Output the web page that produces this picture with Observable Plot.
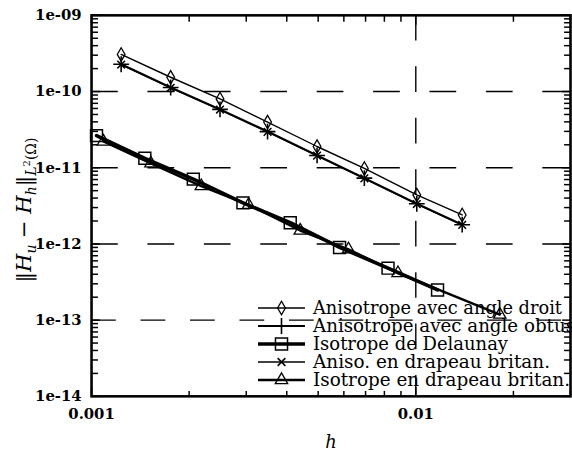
<!DOCTYPE html>
<html>
<head>
<meta charset="utf-8">
<script src="https://cdn.jsdelivr.net/npm/d3@7"></script>
<script src="https://cdn.jsdelivr.net/npm/@observablehq/plot@0.6"></script>
<style>
  html, body { margin: 0; padding: 0; background: #fff; overflow: hidden; }
  #wrap { position: relative; width: 572px; height: 457px; overflow: hidden; }
  #wrap svg.plot { position: absolute; left: 0; top: 0; }
  #ylabel {
    position: absolute; left: 26px; top: 210px; white-space: nowrap; line-height: 1;
    transform: translate(-50%, -50%) rotate(-90deg);
    font-family: "DejaVu Serif", serif; font-size: 21px; color: #000;
  }
  #ylabel sub { font-size: 14px; }
  #ylabel sup { font-size: 10px; }
  #legend { position: absolute; left: 0; top: 0; pointer-events: none; }
</style>
</head>
<body>
<div id="wrap"></div>
<script>
// Mesh size h and L2 error for each mesh family
const hAngleDroit   = [0.001234, 0.001754, 0.00249, 0.00349, 0.00496, 0.00694, 0.01007, 0.0139];
const errAngleDroit = [3.07e-10, 1.54e-10, 8.0e-11, 3.98e-11, 1.9e-11, 9.8e-12, 4.4e-12, 2.4e-12];

const hAngleObtus   = [0.001234, 0.001754, 0.00249, 0.00349, 0.00496, 0.00694, 0.01007, 0.0139];
const errAngleObtus = [2.28e-10, 1.13e-10, 5.83e-11, 2.98e-11, 1.45e-11, 7.3e-12, 3.36e-12, 1.79e-12];

const hDelaunay   = [0.001036, 0.00146, 0.00206, 0.00293, 0.0041, 0.00582, 0.00821, 0.01167];
const errDelaunay = [2.64e-11, 1.33e-11, 7.09e-12, 3.46e-12, 1.90e-12, 9.0e-13, 4.81e-13, 2.49e-13];

const hAnisoBritan   = [0.001234, 0.001754, 0.00249, 0.00349, 0.00496, 0.00694, 0.01007, 0.0139];
const errAnisoBritan = [2.26e-10, 1.12e-10, 5.8e-11, 2.96e-11, 1.44e-11, 7.25e-12, 3.34e-12, 1.78e-12];

const hIsoBritan   = [0.001088, 0.001524, 0.00218, 0.00305, 0.0044, 0.0062, 0.00881, 0.01816];
const errIsoBritan = [2.21e-11, 1.14e-11, 5.75e-12, 3.26e-12, 1.50e-12, 8.5e-13, 4.14e-13, 1.18e-13];

// Legend labels
const seriesNames = [
  "Anisotrope avec angle droit",
  "Anisotrope avec angle obtus",
  "Isotrope de Delaunay",
  "Aniso. en drapeau britan.",
  "Isotrope en drapeau britan."
];

// Axis ticks
const xTicks = [0.001, 0.01];
const xTickLabels = ["0.001", "0.01"];
const yTicks = [1e-14, 1e-13, 1e-12, 1e-11, 1e-10, 1e-9];
const yTickLabels = ["1e-14", "1e-13", "1e-12", "1e-11", "1e-10", "1e-09"];
const yGrid = [1e-10, 1e-11, 1e-12];
const yGridLow = [1e-13];
const xGrid = [0.01];
const xTitle = "h";

// Minor ticks: 2..9 within each decade
const xMinor = [];
for (const d of [0.001, 0.01]) for (let k = 2; k <= 9; k++) if (k * d <= 0.03 + 1e-12) xMinor.push(k * d);
const yMinor = [];
for (const d of [1e-14, 1e-13, 1e-12, 1e-11, 1e-10]) for (let k = 2; k <= 9; k++) yMinor.push(k * d);

const table = (hs, es) => hs.map((h, i) => ({h, e: es[i]}));
const xLabelRows = xTicks.map((v, i) => ({v, label: xTickLabels[i]}));
const yLabelRows = yTicks.map((v, i) => ({v, label: yTickLabels[i]}));

const series = [
  {name: seriesNames[0], data: table(hAngleDroit, errAngleDroit),   symbol: "diamond",  r: 4.1, lw: 1.4, mw: 1.3, keyW: 249},
  {name: seriesNames[1], data: table(hAngleObtus, errAngleObtus),   symbol: "plus",     r: 5.2, lw: 2.2, mw: 1.6, keyW: 262},
  {name: seriesNames[2], data: table(hDelaunay, errDelaunay),       symbol: "square",   r: 6.8, lw: 3.6, mw: 1.5, keyW: 195},
  {name: seriesNames[3], data: table(hAnisoBritan, errAnisoBritan), symbol: "times",    r: 3.6, lw: 1.3, mw: 1.5, keyW: 237},
  {name: seriesNames[4], data: table(hIsoBritan, errIsoBritan),     symbol: "triangle", r: 4.6, lw: 2.4, mw: 1.3, keyW: 257}
];

const W = 578, H = 457;
const mL = 92, mR = 2, mT = 15, mB = 57;
const blank = () => "";

const lineMarks = series.map(s => Plot.line(s.data, {x: "h", y: "e", stroke: "#000", strokeWidth: s.lw}));
const dotMarks = series.map(s => Plot.dot(s.data, {x: "h", y: "e", symbol: () => s.symbol, r: s.r, stroke: "#000", fill: "none", strokeWidth: s.mw}));

const chart = Plot.plot({
  width: W, height: H,
  marginLeft: mL, marginRight: mR, marginTop: mT, marginBottom: mB,
  style: {fontFamily: "'DejaVu Serif', serif", fontSize: "15px", fontWeight: "bold", color: "#000", background: "#fff"},
  x: {type: "log", domain: [0.001, 0.03]},
  y: {type: "log", domain: [1e-14, 1e-9]},
  symbol: {type: "identity"},
  marks: [
    Plot.ruleY(yGrid, {stroke: "#000", strokeWidth: 1.4, strokeDasharray: "27,30"}),
    Plot.ruleY(yGridLow, {stroke: "#000", strokeWidth: 1.4, strokeDasharray: "25,25"}),
    Plot.ruleX(xGrid, {stroke: "#000", strokeWidth: 1.4, strokeDasharray: "26,26"}),
    ...lineMarks,
    ...dotMarks,
    Plot.frame({stroke: "#000", strokeWidth: 2.6}),
    // inward ticks on all four sides
    Plot.axisX(xMinor, {anchor: "bottom", tickSize: -5, tickFormat: blank, strokeWidth: 1.5, label: null}),
    Plot.axisX(xMinor, {anchor: "top", tickSize: -6, tickFormat: blank, strokeWidth: 1.5, label: null}),
    Plot.axisY(yMinor, {anchor: "left", tickSize: -7, tickFormat: blank, strokeWidth: 1.5, label: null}),
    Plot.axisY(yMinor, {anchor: "right", tickSize: -7, tickFormat: blank, strokeWidth: 1.5, label: null}),
    Plot.axisX(xTicks, {anchor: "bottom", tickSize: -9, tickFormat: blank, strokeWidth: 1.5, label: null}),
    Plot.axisY(yTicks, {anchor: "left", tickSize: -9, tickFormat: blank, strokeWidth: 1.5, label: null}),
    Plot.axisX(xTicks, {anchor: "top", tickSize: -9, tickFormat: blank, strokeWidth: 1.5, label: null}),
    Plot.axisY(yTicks, {anchor: "right", tickSize: -9, tickFormat: blank, strokeWidth: 1.5, label: null}),
    // tick labels and x title
    Plot.text(xLabelRows, {x: "v", text: "label", frameAnchor: "bottom", dy: 18, lineAnchor: "middle",
      fill: "#000", fontWeight: "bold", fontSize: 15}),
    Plot.text(yLabelRows, {y: "v", text: "label", frameAnchor: "left", dx: -10, textAnchor: "end",
      fill: "#000", fontWeight: "bold", fontSize: 15}),
    Plot.text([xTitle], {text: d => d, frameAnchor: "bottom", dy: 46, lineAnchor: "middle",
      fill: "#000", fontStyle: "italic", fontWeight: "normal", fontSize: 18})
  ]
});

const wrap = document.getElementById("wrap");
wrap.appendChild(chart);

// y-axis title
const yl = document.createElement("div");
yl.id = "ylabel";
yl.innerHTML = "‖<i>H</i><sub><i>u</i></sub> − <i>H</i><sub><i>h</i></sub>‖<sub><i>L</i><sup>2</sup>(Ω)</sub>";
wrap.appendChild(yl);

// Key drawn over the lower right of the plot area
const legend = d3.select(wrap).append("svg")
  .attr("id", "legend").attr("width", W).attr("height", H);
const keyX0 = 258, keyX1 = 305, keyText = 313, keyY0 = 308, keyStep = 18;
series.forEach((s, i) => {
  const y = keyY0 + i * keyStep;
  const g = legend.append("g");
  g.append("line").attr("x1", keyX0).attr("x2", keyX1).attr("y1", y).attr("y2", y)
    .attr("stroke", "#000").attr("stroke-width", s.lw);
  const sym = {diamond: d3.symbolDiamond, plus: d3.symbolPlus, square: d3.symbolSquare, times: d3.symbolTimes, triangle: d3.symbolTriangle}[s.symbol];
  g.append("path").attr("transform", `translate(${(keyX0 + keyX1) / 2},${y})`)
    .attr("d", d3.symbol(sym, s.r * s.r * Math.PI)())
    .attr("fill", "none").attr("stroke", "#000").attr("stroke-width", s.mw);
  g.append("text").attr("x", keyText).attr("y", y + 6)
    .attr("font-family", "'DejaVu Serif', serif").attr("font-size", 18)
    .attr("textLength", s.keyW).attr("lengthAdjust", "spacingAndGlyphs")
    .attr("fill", "#000").text(s.name);
});
</script>
</body>
</html>
